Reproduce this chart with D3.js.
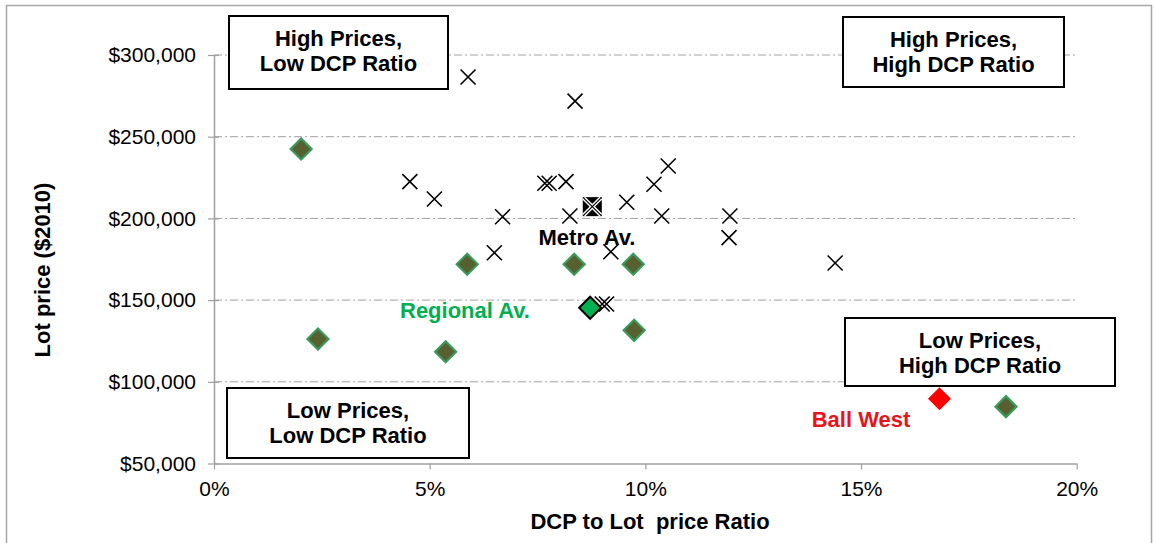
<!DOCTYPE html>
<html><head><meta charset="utf-8">
<script src="https://cdn.jsdelivr.net/npm/d3@7"></script>
<style>
html,body{margin:0;padding:0;background:#fff;}
svg{display:block;font-family:"Liberation Sans",Arial,sans-serif;}
</style></head>
<body><svg id="c" width="1156" height="543"></svg>
<script>
// ---- data ----
const xTicks = [0, 5, 10, 15, 20];
const yTicks = [50000, 100000, 150000, 200000, 250000, 300000];
// Metro area lots (black crosses): DCP ratio (%) and lot price ($2010)
const crossRatio = [5.89, 8.37, 4.54, 5.11, 6.69, 7.67, 7.77, 8.16, 8.25, 9.57, 10.20, 10.53, 10.38, 11.96, 11.94, 14.40, 9.20, 6.50, 9.00, 9.10];
const crossPrice = [286500, 271800, 222500, 211900, 201000, 221500, 221500, 222500, 201500, 209900, 220900, 232100, 201500, 201500, 188200, 172700, 179600, 179000, 147600, 147600];
// Regional lots (olive diamonds)
const diamondRatio = [2.02, 5.87, 8.35, 9.72, 9.74, 5.37, 2.41, 18.36];
const diamondPrice = [242500, 171900, 171900, 171900, 131500, 118400, 126200, 84800];
// Averages and highlighted site
const metroAvg = {ratio: 8.77, price: 207200, label: "Metro Av."};
const regionalAvg = {ratio: 8.72, price: 145300, label: "Regional Av."};
const ballWest = {ratio: 16.82, price: 89700, label: "Ball West"};
const quadrantLabels = [
  ["High Prices,", "Low DCP Ratio"],
  ["High Prices,", "High DCP Ratio"],
  ["Low Prices,", "High DCP Ratio"],
  ["Low Prices,", "Low DCP Ratio"]
];

// ---- chart ----
const svg = d3.select("#c");
const x = d3.scaleLinear().domain([0, 20]).range([214, 1076.7]);
const y = d3.scaleLinear().domain([50000, 300000]).range([463.5, 55]);
const FONT = 21, BFONT = 22;

// outer border (bottom edge falls outside the picture)
svg.append("rect").attr("x", 6.5).attr("y", 5.5).attr("width", 1145).attr("height", 545)
  .attr("fill", "none").attr("stroke", "#a6a6a6").attr("stroke-width", 1.5);

// gridlines
svg.append("g").selectAll("line").data(yTicks.filter(d => d > 50000)).join("line")
  .attr("x1", x(0)).attr("x2", x(20))
  .attr("y1", d => y(d)).attr("y2", d => y(d))
  .attr("stroke", "#a0a0a0").attr("stroke-width", 1)
  .attr("stroke-dasharray", "8,3,2,3");

// axes
const yAxis = svg.append("g").attr("transform", `translate(${x(0)},0)`)
  .call(d3.axisLeft(y).tickValues(yTicks).tickSizeInner(6).tickSizeOuter(0).tickPadding(12)
    .tickFormat(d => "$" + d3.format(",")(d)));
yAxis.select(".domain").attr("stroke", "#a0a0a0").attr("stroke-width", 1.5);
yAxis.selectAll(".tick line").attr("stroke", "#a0a0a0").attr("stroke-width", 1.2).attr("x2", -6).attr("x1", 5);
yAxis.selectAll(".tick text").attr("font-size", FONT).attr("fill", "#000").attr("font-family", "Liberation Sans, Arial, sans-serif");

const xAxis = svg.append("g").attr("transform", `translate(0,${y(50000)})`)
  .call(d3.axisBottom(x).tickValues(xTicks).tickSizeInner(6).tickSizeOuter(0).tickPadding(12)
    .tickFormat(d => d + "%"));
xAxis.select(".domain").attr("stroke", "#a0a0a0").attr("stroke-width", 1.5);
xAxis.selectAll(".tick line").attr("stroke", "#a0a0a0").attr("stroke-width", 1.2);
xAxis.selectAll(".tick text").attr("font-size", FONT).attr("fill", "#000").attr("font-family", "Liberation Sans, Arial, sans-serif");

// axis titles
svg.append("text").attr("x", 650).attr("y", 529).attr("text-anchor", "middle")
  .attr("font-size", BFONT).attr("font-weight", "bold").style("white-space", "pre")
  .text("DCP to Lot  price Ratio");
svg.append("text").attr("transform", "translate(50,270) rotate(-90)").attr("text-anchor", "middle")
  .attr("font-size", BFONT).attr("font-weight", "bold")
  .text("Lot price ($2010)");

// quadrant boxes
const boxes = [
  {x: 229, y: 16, w: 219, h: 73},
  {x: 843, y: 17, w: 221, h: 70},
  {x: 845, y: 318, w: 270, h: 68},
  {x: 227, y: 388, w: 242, h: 70}
];
boxes.forEach((b, i) => {
  const g = svg.append("g");
  g.append("rect").attr("x", b.x).attr("y", b.y).attr("width", b.w).attr("height", b.h)
    .attr("fill", "#fff").attr("stroke", "#000").attr("stroke-width", 2);
  quadrantLabels[i].forEach((t, j) => {
    g.append("text").attr("x", b.x + b.w / 2).attr("y", b.y + 30 + j * 25)
      .attr("text-anchor", "middle").attr("font-size", BFONT).attr("font-weight", "bold").text(t);
  });
});

// crosses
const cs = 7.5;
svg.append("g").selectAll("path").data(crossRatio.map((r, i) => [r, crossPrice[i]])).join("path")
  .attr("d", d => {
    const px = x(d[0]), py = y(d[1]);
    return `M${px - cs},${py - cs}L${px + cs},${py + cs}M${px - cs},${py + cs}L${px + cs},${py - cs}`;
  })
  .attr("stroke", "#000").attr("stroke-width", 1.6).attr("fill", "none");

// diamonds
const diamond = (px, py, r) => `M${px},${py - r}L${px + r},${py}L${px},${py + r}L${px - r},${py}Z`;
svg.append("g").selectAll("path").data(diamondRatio.map((r, i) => [r, diamondPrice[i]])).join("path")
  .attr("d", d => diamond(x(d[0]), y(d[1]), 10.5))
  .attr("fill", "#586030").attr("stroke", "#3a9a5c").attr("stroke-width", 2.2);

// metro average marker
{
  const px = x(metroAvg.ratio), py = y(metroAvg.price), h = 9.5;
  svg.append("rect").attr("x", px - h).attr("y", py - h).attr("width", 2 * h).attr("height", 2 * h)
    .attr("fill", "#000");
  const xp = `M${px - h + 1},${py - h + 1}L${px + h - 1},${py + h - 1}M${px - h + 1},${py + h - 1}L${px + h - 1},${py - h + 1}`;
  svg.append("path").attr("d", xp).attr("stroke", "#fff").attr("stroke-width", 4);
  svg.append("path").attr("d", xp).attr("stroke", "#000").attr("stroke-width", 1.2);
  svg.append("text").attr("x", 587).attr("y", 245).attr("text-anchor", "middle")
    .attr("font-size", BFONT).attr("font-weight", "bold").attr("fill", "#000").text(metroAvg.label);
}
// regional average marker
svg.append("path").attr("d", diamond(x(regionalAvg.ratio), y(regionalAvg.price), 11))
  .attr("fill", "#00b050").attr("stroke", "#000").attr("stroke-width", 2);
svg.append("text").attr("x", 465).attr("y", 318).attr("text-anchor", "middle")
  .attr("font-size", BFONT).attr("font-weight", "bold").attr("fill", "#00b050").text(regionalAvg.label);
// Ball West
svg.append("path").attr("d", diamond(x(ballWest.ratio), y(ballWest.price), 11.5))
  .attr("fill", "#ff0000");
svg.append("text").attr("x", 861).attr("y", 427).attr("text-anchor", "middle")
  .attr("font-size", BFONT).attr("font-weight", "bold").attr("fill", "#e8141b").text(ballWest.label);
</script></body></html>
